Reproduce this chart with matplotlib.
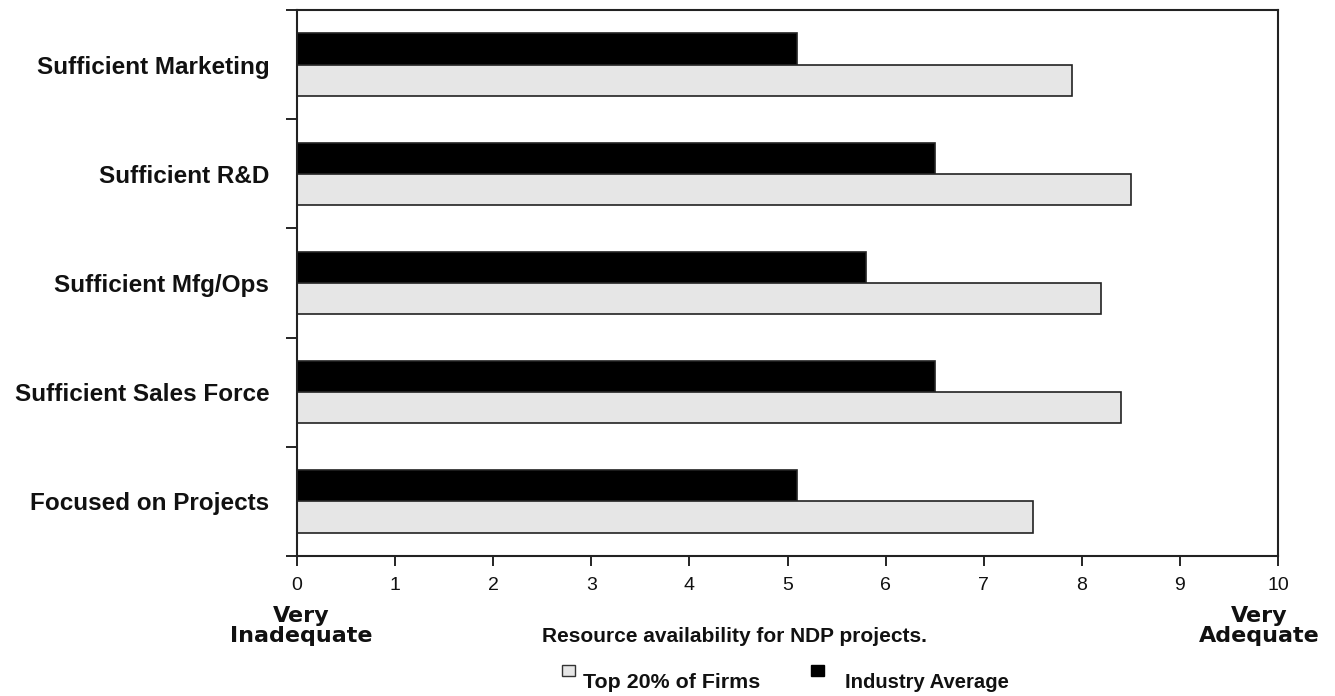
import numpy as np
import matplotlib.pyplot as plt
from matplotlib.patches import Rectangle
from matplotlib.ticker import FixedLocator

categories = ["Sufficient Marketing", "Sufficient R&D", "Sufficient Mfg/Ops",
              "Sufficient Sales Force", "Focused on Projects"]
industry_avg = [5.1, 6.5, 5.8, 6.5, 5.1]
top20 = [7.9, 8.5, 8.2, 8.4, 7.5]
x_ticks = list(range(0, 11))
series_names = ["Top 20% of Firms", "Industry Average"]

GRAY = '#e6e6e6'
INK = '#111111'

plt.rcParams['font.family'] = ['Liberation Sans', 'DejaVu Sans']

W, H = 1335, 696
fig = plt.figure(figsize=(W / 100, H / 100), dpi=100)
ax = fig.add_axes([297 / W, 1 - 556 / H, (1278 - 297) / W, (556 - 10) / H])

y = np.arange(len(categories))
h = 0.285
ax.barh(y - h / 2, industry_avg, height=h, color='black', edgecolor='#222222', linewidth=1.2)
ax.barh(y + h / 2, top20, height=h, color=GRAY, edgecolor='#222222', linewidth=1.2)

ax.set_xlim(0, 10)
ax.set_ylim(len(categories) - 0.5, -0.5)

ax.set_xticks(x_ticks)
ax.set_xticklabels([str(t) for t in x_ticks], fontsize=14, color=INK)
ax.tick_params(axis='x', direction='out', length=7, width=1.2, pad=8)

ax.set_yticks(y)
ax.set_yticklabels(categories, fontsize=17.5, fontweight='bold', color=INK)
ax.tick_params(axis='y', which='major', length=0, pad=20)
ax.yaxis.set_minor_locator(FixedLocator(np.arange(-0.5, len(categories), 1.0)))
ax.tick_params(axis='y', which='minor', direction='out', length=8, width=1.2)

for s in ax.spines.values():
    s.set_linewidth(1.5)
    s.set_color('#222222')

# End-of-scale captions and axis title
fig.text(301 / W, 1 - 626 / H, "Very\nInadequate", ha='center', va='center', fontsize=16,
         fontweight='bold', family='DejaVu Sans', linespacing=1.05, color=INK)
fig.text(1259 / W, 1 - 626 / H, "Very\nAdequate", ha='center', va='center', fontsize=16,
         fontweight='bold', family='DejaVu Sans', linespacing=1.05, color=INK)
fig.text(734 / W, 1 - 637 / H, "Resource availability for NDP projects.", ha='center',
         va='center', fontsize=15, fontweight='bold', color=INK)

# Legend: small square swatches followed by their labels
swatches = [(562, GRAY, '#333333', 583, 15.4), (811, 'black', 'black', 845, 14.6)]
for (sx, fc, ec, tx, fs), name in zip(swatches, series_names):
    fig.add_artist(Rectangle((sx / W, 1 - 676 / H), 13 / W, 11 / H, transform=fig.transFigure,
                             facecolor=fc, edgecolor=ec, linewidth=1.0))
    fig.text(tx / W, 1 - 683 / H, name, ha='left', va='center', fontsize=fs,
             fontweight='bold', color=INK)

fig.savefig('out.png', dpi=100)
